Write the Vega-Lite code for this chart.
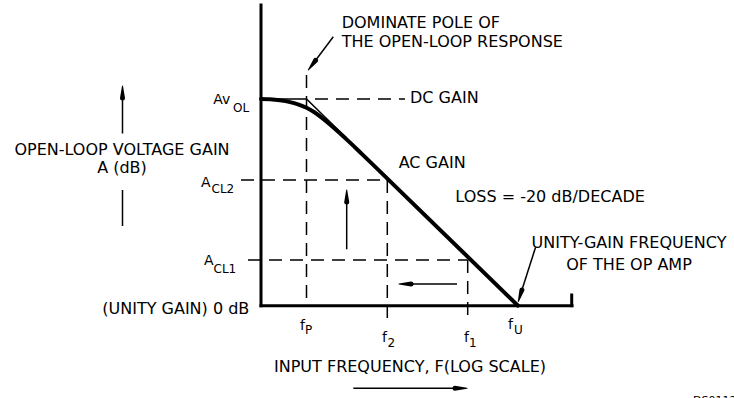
{
  "$schema": "https://vega.github.io/schema/vega-lite/v6.json",
  "width": 734,
  "height": 398,
  "autosize": {"type": "fit", "contains": "padding"},
  "padding": 0,
  "background": "white",
  "config": {"view": {"stroke": null}, "text": {"font": "DejaVu Sans", "color": "black"}},
  "datasets": {
    "axes": [
      {"x": 261, "y": 5, "x2": 261, "y2": 305.7},
      {"x": 261, "y": 305.7, "x2": 572, "y2": 305.7},
      {"x": 571.7, "y": 295, "x2": 571.7, "y2": 305.7}
    ],
    "dashed": [
      {"x": 315, "y": 99, "x2": 405, "y2": 99},
      {"x": 306.5, "y": 75, "x2": 306.5, "y2": 305.7},
      {"x": 241, "y": 180, "x2": 387.3, "y2": 180},
      {"x": 387.3, "y": 180, "x2": 387.3, "y2": 318},
      {"x": 248, "y": 260, "x2": 467.7, "y2": 260},
      {"x": 467.7, "y": 260, "x2": 467.7, "y2": 318}
    ],
    "shafts": [
      {"x": 122.5, "y": 133.5, "x2": 122.5, "y2": 92},
      {"x": 122.5, "y": 190, "x2": 122.5, "y2": 226},
      {"x": 346.7, "y": 249.3, "x2": 346.7, "y2": 196},
      {"x": 457, "y": 284, "x2": 405, "y2": 284},
      {"x": 353.3, "y": 388.3, "x2": 461, "y2": 388.3},
      {"x": 333.3, "y": 36.7, "x2": 311, "y2": 66.5},
      {"x": 535.5, "y": 247.5, "x2": 520, "y2": 296}
    ],
    "heads": [
      {"arrow": "gain-axis", "x": 122.5, "y": 86, "end": 0},
      {"arrow": "gain-axis", "x": 122.5, "y": 98, "end": 1},
      {"arrow": "closed-loop", "x": 346.7, "y": 190, "end": 0},
      {"arrow": "closed-loop", "x": 346.7, "y": 202, "end": 1},
      {"arrow": "bandwidth", "x": 399, "y": 284, "end": 0},
      {"arrow": "bandwidth", "x": 411, "y": 284, "end": 1},
      {"arrow": "frequency-axis", "x": 467, "y": 388.3, "end": 0},
      {"arrow": "frequency-axis", "x": 455, "y": 388.3, "end": 1},
      {"arrow": "pole", "x": 308.3, "y": 70, "end": 0},
      {"arrow": "pole", "x": 315.5, "y": 60.4, "end": 1},
      {"arrow": "unity", "x": 518.3, "y": 301.5, "end": 0},
      {"arrow": "unity", "x": 521.9, "y": 290.1, "end": 1}
    ],
    "asymptote": [
      {"x": 261, "y": 99},
      {"x": 306.5, "y": 99},
      {"x": 518, "y": 305.7}
    ],
    "response": [
      {"x": 261, "y": 99},
      {"x": 270, "y": 99.3},
      {"x": 280, "y": 100.3},
      {"x": 290, "y": 102.1},
      {"x": 298, "y": 104.4},
      {"x": 306.5, "y": 107.8},
      {"x": 314, "y": 112},
      {"x": 322, "y": 117.8},
      {"x": 330, "y": 124.4},
      {"x": 338, "y": 131.5},
      {"x": 346, "y": 138.9},
      {"x": 354, "y": 146.4},
      {"x": 362, "y": 154.1},
      {"x": 375, "y": 166.6},
      {"x": 518, "y": 305.7}
    ],
    "textLeft": [
      {"x": 341.7, "y": 28.3, "t": "DOMINATE POLE OF"},
      {"x": 341.7, "y": 46.7, "t": "THE OPEN-LOOP RESPONSE"},
      {"x": 410, "y": 103.3, "t": "DC GAIN"},
      {"x": 398.7, "y": 168.3, "t": "AC GAIN"},
      {"x": 455.3, "y": 201.7, "t": "LOSS = -20 dB/DECADE"}
    ],
    "textCenter": [
      {"x": 122, "y": 155, "t": "OPEN-LOOP VOLTAGE GAIN"},
      {"x": 122, "y": 172.5, "t": "A (dB)"},
      {"x": 629, "y": 248.3, "t": "UNITY-GAIN FREQUENCY"},
      {"x": 629, "y": 270, "t": "OF THE OP AMP"},
      {"x": 410, "y": 372, "t": "INPUT FREQUENCY, F(LOG SCALE)"}
    ],
    "textRight": [
      {"x": 249.3, "y": 313.5, "t": "(UNITY GAIN) 0 dB"}
    ],
    "symbols": [
      {"x": 213.3, "y": 104, "t": "Av"},
      {"x": 201, "y": 186.5, "t": "A"},
      {"x": 204, "y": 265, "t": "A"},
      {"x": 300, "y": 330, "t": "f"},
      {"x": 382, "y": 342, "t": "f"},
      {"x": 464, "y": 342, "t": "f"},
      {"x": 508, "y": 329.3, "t": "f"}
    ],
    "subscripts": [
      {"x": 233, "y": 111.5, "t": "OL"},
      {"x": 211.5, "y": 193, "t": "CL2"},
      {"x": 213.5, "y": 273, "t": "CL1"},
      {"x": 305, "y": 333.5, "t": "P"},
      {"x": 387.5, "y": 346.5, "t": "2"},
      {"x": 469, "y": 346.5, "t": "1"},
      {"x": 514, "y": 334, "t": "U"}
    ],
    "figureId": [
      {"x": 693, "y": 404, "t": "DS011223-13"}
    ]
  },
  "encoding": {
    "x": {"field": "x", "type": "quantitative", "scale": {"domain": [0, 734], "nice": false, "zero": false}, "axis": null},
    "y": {"field": "y", "type": "quantitative", "scale": {"domain": [0, 398], "reverse": true, "nice": false, "zero": false}, "axis": null}
  },
  "layer": [
    {
      "data": {"name": "dashed"},
      "mark": {"type": "rule", "color": "black", "strokeWidth": 1.5, "strokeDash": [13, 8]},
      "encoding": {"x2": {"field": "x2"}, "y2": {"field": "y2"}}
    },
    {
      "data": {"name": "asymptote"},
      "mark": {"type": "line", "color": "black", "strokeWidth": 1.5},
      "encoding": {}
    },
    {
      "data": {"name": "response"},
      "mark": {"type": "line", "color": "black", "strokeWidth": 4, "interpolate": "monotone", "strokeCap": "round"},
      "encoding": {}
    },
    {
      "data": {"name": "axes"},
      "mark": {"type": "rule", "color": "black", "strokeWidth": 3, "strokeCap": "square"},
      "encoding": {"x2": {"field": "x2"}, "y2": {"field": "y2"}}
    },
    {
      "data": {"name": "shafts"},
      "mark": {"type": "rule", "color": "black", "strokeWidth": 1.5},
      "encoding": {"x2": {"field": "x2"}, "y2": {"field": "y2"}}
    },
    {
      "data": {"name": "heads"},
      "mark": {"type": "trail", "color": "black", "opacity": 1},
      "encoding": {
        "detail": {"field": "arrow", "type": "nominal"},
        "order": {"field": "end", "type": "quantitative"},
        "size": {"field": "end", "type": "quantitative", "scale": {"domain": [0, 1], "range": [0, 5], "zero": true}, "legend": null}
      }
    },
    {
      "data": {"name": "textLeft"},
      "mark": {"type": "text", "align": "left", "baseline": "alphabetic", "fontSize": 16},
      "encoding": {"text": {"field": "t"}}
    },
    {
      "data": {"name": "textCenter"},
      "mark": {"type": "text", "align": "center", "baseline": "alphabetic", "fontSize": 16},
      "encoding": {"text": {"field": "t"}}
    },
    {
      "data": {"name": "textRight"},
      "mark": {"type": "text", "align": "right", "baseline": "alphabetic", "fontSize": 16},
      "encoding": {"text": {"field": "t"}}
    },
    {
      "data": {"name": "symbols"},
      "mark": {"type": "text", "align": "left", "baseline": "alphabetic", "fontSize": 14},
      "encoding": {"text": {"field": "t"}}
    },
    {
      "data": {"name": "subscripts"},
      "mark": {"type": "text", "align": "left", "baseline": "alphabetic", "fontSize": 12},
      "encoding": {"text": {"field": "t"}}
    },
    {
      "data": {"name": "figureId"},
      "mark": {"type": "text", "align": "left", "baseline": "alphabetic", "fontSize": 11, "clip": true},
      "encoding": {"text": {"field": "t"}}
    }
  ]
}
